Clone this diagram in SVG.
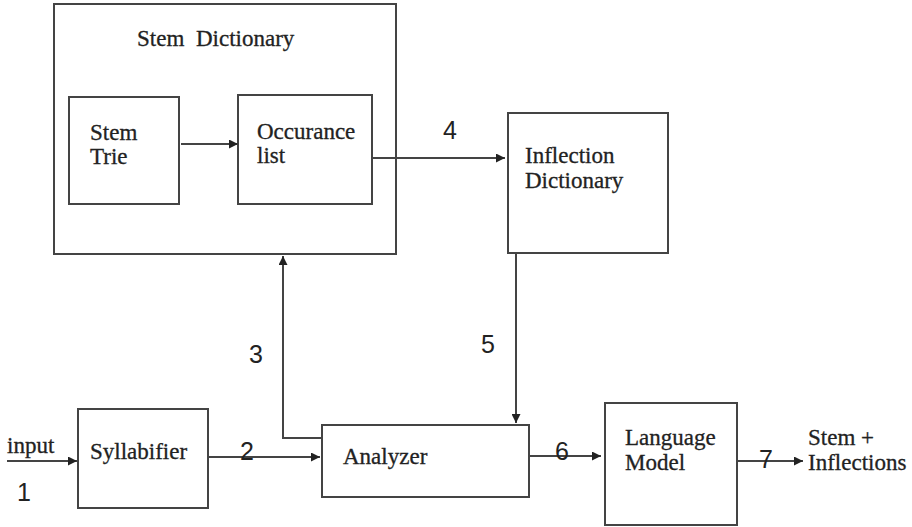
<svg xmlns="http://www.w3.org/2000/svg" width="912" height="527" viewBox="0 0 912 527">
<defs>
<marker id="ah" viewBox="0 0 10 10" refX="10" refY="5" markerWidth="9" markerHeight="9" markerUnits="userSpaceOnUse" orient="auto">
<path d="M0,0 L10,5 L0,10 Z" fill="#222"/>
</marker>
<style>
.box{fill:#fff;stroke:#444;stroke-width:2}
.t{font-family:"Liberation Serif","Times New Roman",serif;font-size:23px;fill:#222;stroke:#222;stroke-width:0.3}
.n{font-family:"Liberation Sans",Arial,sans-serif;font-size:25px;fill:#222}
.c{fill:none;stroke:#444;stroke-width:2}
</style>
</defs>
<rect width="912" height="527" fill="#fff"/>
<g id="stem-dictionary">
<rect class="box" x="54" y="4" width="342" height="250"/>
<text class="t" y="46"><tspan x="137">Stem</tspan><tspan x="196">Dictionary</tspan></text>
</g>
<g id="stem-trie">
<rect class="box" x="69" y="97" width="110" height="107"/>
<text class="t" x="90" y="140">Stem</text>
<text class="t" x="90" y="164">Trie</text>
</g>
<g id="occurance-list">
<rect class="box" x="238" y="95" width="134" height="109"/>
<text class="t" x="257" y="139">Occurance</text>
<text class="t" x="257" y="163">list</text>
</g>
<g id="inflection-dictionary">
<rect class="box" x="508" y="113" width="160" height="140"/>
<text class="t" x="525" y="163">Inflection</text>
<text class="t" x="525" y="188">Dictionary</text>
</g>
<g id="syllabifier">
<rect class="box" x="78" y="409" width="130" height="99"/>
<text class="t" x="90" y="459">Syllabifier</text>
</g>
<g id="analyzer">
<rect class="box" x="322" y="425" width="207" height="72"/>
<text class="t" x="343" y="464">Analyzer</text>
</g>
<g id="language-model">
<rect class="box" x="605" y="403" width="132" height="122"/>
<text class="t" x="625" y="445">Language</text>
<text class="t" x="625" y="470">Model</text>
</g>
<g id="input-label">
<text class="t" x="7" y="453">input</text>
</g>
<g id="output-label">
<text class="t" x="808" y="445">Stem +</text>
<text class="t" x="808" y="470">Inflections</text>
</g>
<g id="connectors">
<line class="c" x1="181" y1="144" x2="238" y2="144" marker-end="url(#ah)"/>
<line class="c" x1="372" y1="158" x2="505" y2="158" marker-end="url(#ah)"/>
<line class="c" x1="516" y1="254" x2="516" y2="423" marker-end="url(#ah)"/>
<polyline class="c" points="322,438 283,438 283,256" marker-end="url(#ah)"/>
<line class="c" x1="7" y1="461" x2="77" y2="461" marker-end="url(#ah)"/>
<line class="c" x1="208" y1="457" x2="320" y2="457" marker-end="url(#ah)"/>
<line class="c" x1="529" y1="456" x2="601" y2="456" marker-end="url(#ah)"/>
<line class="c" x1="737" y1="461" x2="803" y2="461" marker-end="url(#ah)"/>
<text class="n" x="17" y="501">1</text>
<text class="n" x="240" y="460">2</text>
<text class="n" x="249" y="363">3</text>
<text class="n" x="443" y="139">4</text>
<text class="n" x="481" y="353">5</text>
<text class="n" x="555" y="460">6</text>
<text class="n" x="759" y="468">7</text>
</g>
</svg>
